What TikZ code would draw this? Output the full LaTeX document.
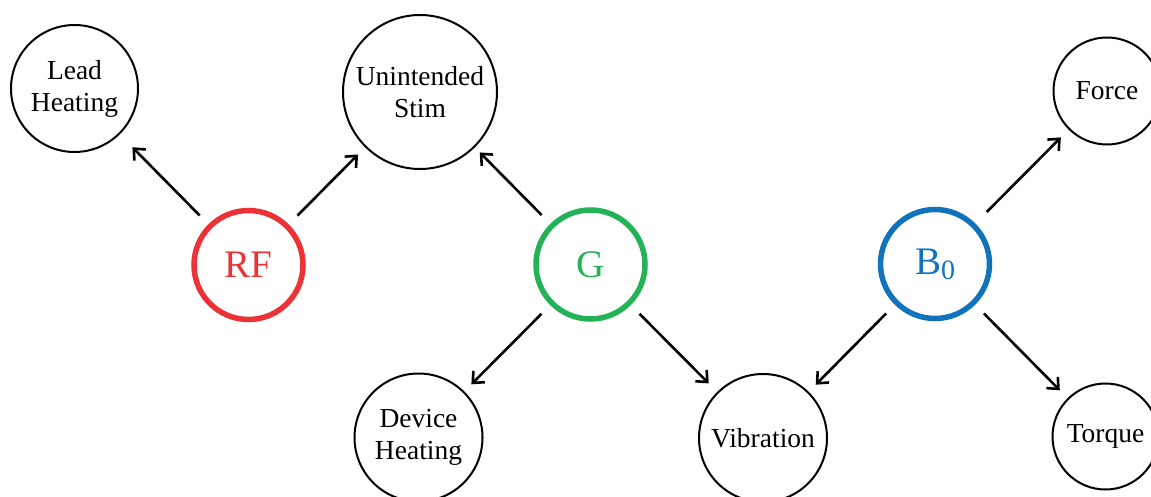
\documentclass[tikz,border=0pt]{standalone}
\usepackage{fontspec}
\setmainfont{Liberation Serif}
\usetikzlibrary{arrows.meta}
\definecolor{rfred}{RGB}{237,50,55}
\definecolor{ggreen}{RGB}{36,178,86}
\definecolor{bblue}{RGB}{17,115,187}
\tikzset{
  effect/.style={circle, draw=black, line width=2pt, inner sep=0pt, outer sep=0pt,
    align=center, font=\fontsize{27.5}{32}\selectfont, minimum size=#1},
  source/.style={circle, draw=#1, text=#1, line width=5.5pt, inner sep=0pt, outer sep=0pt,
    minimum size=109pt, font=\fontsize{39}{39}\selectfont},
  arr/.style={line width=2.6pt, -{Straight Barb[length=9pt,width=16pt,line width=2.6pt]},
    shorten <=15pt, shorten >=11pt}
}
\begin{document}
\begin{tikzpicture}[x=1pt,y=-1pt]
\useasboundingbox (0,0) rectangle (1151,497);
\clip (0,0) rectangle (1151,497);

% field sources
\node[source=rfred]  (rf) at (248.5,265) {RF};
\node[source=ggreen] (g)  at (590.5,264.5) {G};
\node[source=bblue]  (b0) at (935,264) {B\raisebox{-5pt}{\fontsize{28}{28}\selectfont 0}};

% effects
\node[effect=127pt] (lead)  at (74.5,88.5) {Lead\\Heating};
\node[effect=154pt] (stim)  at (420,92)    {Unintended\\Stim};
\node[effect=107pt] (force) at (1107,91)   {Force};
\node[effect=128pt] (dev)   at (418.5,437.5) {Device\\Heating};
\node[effect=128pt] (vib)   at (763,438)   {Vibration};
\node[effect=106pt] (torq)  at (1105.5,436.5) {Torque};

% interactions
\draw[arr, shorten >=19pt] (rf) -- (lead);
\draw[arr] (rf) -- (stim);
\draw[arr, shorten >=8pt] (g) -- (stim);
\draw[arr] (g) -- (dev);
\draw[arr, shorten >=13pt] (g) -- (vib);
\draw[arr] (b0) -- (vib);
\draw[arr, shorten <=19pt, shorten >=12pt] (b0) -- (force);
\draw[arr, shorten >=12pt] (b0) -- (torq);
\end{tikzpicture}
\end{document}
